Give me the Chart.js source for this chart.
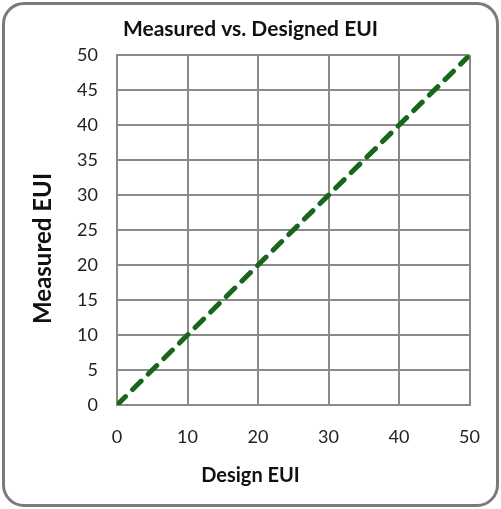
<!DOCTYPE html>
<html lang="en">
<head>
    <meta charset="UTF-8">
    <title>Measured vs. Designed EUI</title>
    <script src="https://cdn.jsdelivr.net/npm/chart.js"></script>
    <style>
        body {
            margin: 0;
            padding: 0;
            background: #ffffff;
        }
        #frame {
            position: absolute;
            left: 2px;
            top: 2px;
            width: 491px;
            height: 499px;
            border: 3px solid #7a7a7a;
            border-radius: 22px;
        }
        #chart {
            position: absolute;
            left: 0;
            top: 0;
        }
    </style>
</head>
<body>
    <div id="frame"></div>
    <canvas id="chart" width="501" height="509"></canvas>
    <script>
    // reference line: measured = design
    const designEUI = [0, 50];
    const measuredEUI = [0, 50];
    const xTicks = [0, 10, 20, 30, 40, 50];
    const yTicks = [0, 5, 10, 15, 20, 25, 30, 35, 40, 45, 50];

    const gridColor = '#8a8a8a';
    const font = 'Lato, "Open Sans", sans-serif';

    // y axis title, centred on the whole chart like Excel does
    const yTitlePlugin = {
        id: 'yTitle',
        afterDraw(chart) {
            const c = chart.ctx;
            c.save();
            c.translate(43, chart.height / 2 - 6);
            c.rotate(-Math.PI / 2);
            c.font = 'bold 24px ' + font;
            c.fillStyle = '#111';
            c.textAlign = 'center';
            c.textBaseline = 'middle';
            c.fillText('Measured EUI', 0, 0);
            c.restore();
        }
    };

    const ctx = document.getElementById('chart').getContext('2d');
    const chart = new Chart(ctx, {
        type: 'scatter',
        data: {
            datasets: [{
                data: designEUI.map((d, i) => ({ x: d, y: measuredEUI[i] })),
                showLine: true,
                borderColor: '#17661a',
                borderWidth: 5,
                borderDash: [12, 10],
                borderCapStyle: 'round',
                pointRadius: 0
            }]
        },
        options: {
            responsive: false,
            animation: false,
            layout: { padding: 0 },
            plugins: {
                legend: { display: false },
                tooltip: { enabled: false },
                title: {
                    display: true,
                    text: 'Measured vs. Designed EUI',
                    color: '#111',
                    font: { family: font, size: 21, weight: 'bold' },
                    padding: { top: 17, bottom: 13 }
                },
                subtitle: {
                    display: true,
                    position: 'bottom',
                    text: 'Design EUI',
                    color: '#111',
                    font: { family: font, size: 20, weight: 'bold' },
                    padding: { top: 0, bottom: 21 }
                }
            },
            scales: {
                x: {
                    type: 'linear',
                    min: 0,
                    max: 50,
                    afterBuildTicks: s => { s.ticks = xTicks.map(v => ({ value: v })); },
                    afterFit: s => { s.height = 59; },
                    grid: { color: gridColor, lineWidth: 2, drawTicks: false },
                    border: { color: gridColor, width: 2 },
                    ticks: {
                        padding: 21,
                        color: '#222',
                        font: { family: font, size: 18 }
                    }
                },
                y: {
                    type: 'linear',
                    min: 0,
                    max: 50,
                    afterBuildTicks: s => { s.ticks = yTicks.map(v => ({ value: v })); },
                    afterFit: s => { s.width = 117; },
                    grid: { color: gridColor, lineWidth: 2, drawTicks: false },
                    border: { color: gridColor, width: 2 },
                    ticks: {
                        padding: 19,
                        color: '#222',
                        font: { family: font, size: 18 }
                    }
                },
                // empty right box so the plot ends 30px from the edge
                yRight: {
                    type: 'linear',
                    position: 'right',
                    display: true,
                    grid: { display: false },
                    border: { display: false },
                    ticks: { display: false },
                    afterFit: s => { s.width = 30; }
                }
            }
        },
        plugins: [yTitlePlugin]
    });
    </script>
</body>
</html>
